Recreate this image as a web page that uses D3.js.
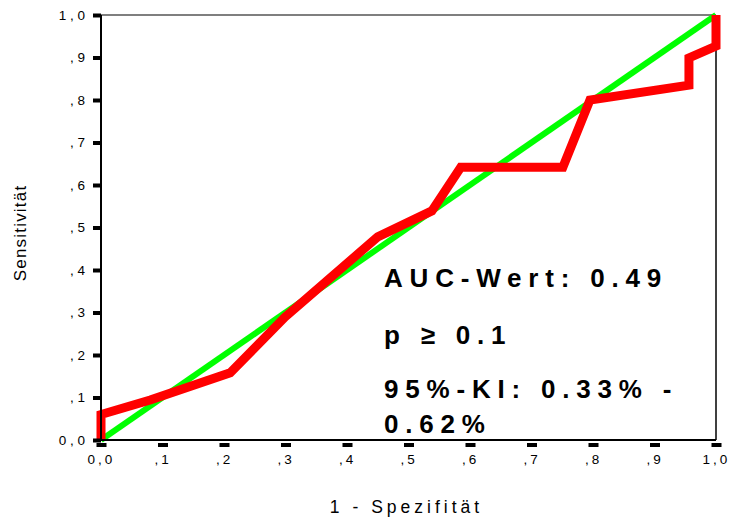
<!DOCTYPE html>
<html>
<head>
<meta charset="utf-8">
<script src="https://cdn.jsdelivr.net/npm/d3@7"></script>
<style>
  body { margin: 0; background: #fff; }
  svg { display: block; font-family: "Liberation Sans", Arial, sans-serif; }
</style>
</head>
<body>
<svg id="chart" width="729" height="519"></svg>
<script>
// ROC curve: 1 - specificity (x) against sensitivity (y)
const rocX = [0, 0, 0.080, 0.210, 0.299, 0.450, 0.538, 0.585, 0.751, 0.795, 0.956, 0.956, 1.0, 1.0];
const rocY = [0, 0.060, 0.094, 0.158, 0.289, 0.478, 0.539, 0.642, 0.642, 0.800, 0.835, 0.899, 0.927, 1.0];

// Reference diagonal (chance line)
const refX = [0, 1];
const refY = [0, 1];

// Axis ticks and their labels
const tickValues = [0, 0.1, 0.2, 0.3, 0.4, 0.5, 0.6, 0.7, 0.8, 0.9, 1.0];
const tickLabels = ["0,0", ",1", ",2", ",3", ",4", ",5", ",6", ",7", ",8", ",9", "1,0"];

// Axis titles and annotation lines
const xTitle = "1 - Spezifität";
const yTitle = "Sensitivität";
const annotations = ["AUC-Wert: 0.49", "p \u2265 0.1", "95%-KI: 0.33% -", "0.62%"];

const svg = d3.select("#chart");
const plotLeft = 101, plotRight = 716, plotTop = 15, plotBottom = 440;

const x = d3.scaleLinear().domain([0, 1]).range([plotLeft, plotRight]);
const y = d3.scaleLinear().domain([0, 1]).range([plotBottom, plotTop]);

// Thin frame on top and right
svg.append("line").attr("x1", plotLeft).attr("x2", plotRight).attr("y1", plotTop).attr("y2", plotTop)
  .attr("stroke", "#000").attr("stroke-width", 1.2);
svg.append("line").attr("x1", plotRight).attr("x2", plotRight).attr("y1", plotTop).attr("y2", plotBottom)
  .attr("stroke", "#000").attr("stroke-width", 1.5);

const line = d3.line().x(d => x(d[0])).y(d => y(d[1]));

// Diagonal
svg.append("path")
  .datum(refX.map((v, i) => [v, refY[i]]))
  .attr("d", line)
  .attr("fill", "none")
  .attr("stroke", "#00ff00")
  .attr("stroke-width", 6);

// ROC curve
svg.append("path")
  .datum(rocX.map((v, i) => [v, rocY[i]]))
  .attr("d", line)
  .attr("fill", "none")
  .attr("stroke", "#ff0000")
  .attr("stroke-width", 9)
  .attr("stroke-linejoin", "miter")
  .attr("stroke-miterlimit", 3);

// X axis
const tickLS = 3;
const xAxis = svg.append("g")
  .attr("transform", `translate(0,${plotBottom})`)
  .call(d3.axisBottom(x).tickValues(tickValues)
    .tickFormat((d, i) => tickLabels[i]).tickSize(0).tickPadding(14));
xAxis.select(".domain").remove();
xAxis.selectAll(".tick text")
  .attr("font-size", 13.5).attr("font-family", "Liberation Sans, Arial, sans-serif")
  .attr("fill", "#000").style("letter-spacing", tickLS + "px")
  .attr("dx", tickLS / 2 - 1.5);
xAxis.selectAll(".tick").append("rect")
  .attr("x", -5).attr("y", 3).attr("width", 10).attr("height", 4).attr("fill", "#000");

// Y axis
const yAxis = svg.append("g")
  .attr("transform", `translate(${plotLeft},0)`)
  .call(d3.axisLeft(y).tickValues(tickValues)
    .tickFormat((d, i) => tickLabels[i]).tickSize(0).tickPadding(16));
yAxis.select(".domain").remove();
yAxis.selectAll(".tick text")
  .attr("font-size", 13.5).attr("font-family", "Liberation Sans, Arial, sans-serif")
  .attr("fill", "#000").style("letter-spacing", (tickLS + 0.8) + "px")
  .attr("dx", tickLS + 0.8);
yAxis.selectAll(".tick").append("rect")
  .attr("x", -8).attr("y", -2).attr("width", 8).attr("height", 4).attr("fill", "#000");

// Heavy axis lines on left and bottom
svg.append("line").attr("x1", plotLeft).attr("x2", plotLeft).attr("y1", plotTop).attr("y2", plotBottom + 1)
  .attr("stroke", "#000").attr("stroke-width", 2);
svg.append("line").attr("x1", plotLeft - 1).attr("x2", plotRight).attr("y1", plotBottom).attr("y2", plotBottom)
  .attr("stroke", "#000").attr("stroke-width", 2);

// Axis titles
svg.append("text")
  .attr("x", (plotLeft + plotRight) / 2 - 2).attr("y", 513)
  .attr("text-anchor", "middle")
  .attr("font-size", 17.5)
  .style("letter-spacing", "4px")
  .text(xTitle);

svg.append("text")
  .attr("transform", "translate(26,233) rotate(-90)")
  .attr("text-anchor", "middle")
  .attr("font-size", 17)
  .style("letter-spacing", "1.2px")
  .text(yTitle);

// Annotation block
const baselines = [287, 344, 398, 433];
svg.selectAll("text.note")
  .data(annotations)
  .join("text")
  .attr("class", "note")
  .attr("x", 384)
  .attr("y", (d, i) => baselines[i])
  .attr("font-size", 26)
  .attr("font-weight", "bold")
  .style("letter-spacing", "6.8px")
  .style("white-space", "pre")
  .attr("fill", "#000")
  .text(d => d);
</script>
</body>
</html>
